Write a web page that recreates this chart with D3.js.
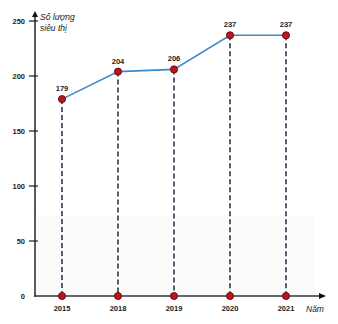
<!DOCTYPE html>
<html>
<head>
<meta charset="utf-8">
<script src="https://cdn.jsdelivr.net/npm/d3@7"></script>
<style>
  html, body { margin: 0; padding: 0; background: #fff; }
  svg { display: block; }
  text { font-family: "Liberation Sans", Arial, sans-serif; }
</style>
</head>
<body>
<svg id="chart" width="338" height="324"></svg>
<script>
// Number of supermarkets by year
const years = ["2015", "2018", "2019", "2020", "2021"];
const counts = [179, 204, 206, 237, 237];
const yTicks = [0, 50, 100, 150, 200, 250];

const svg = d3.select("#chart");
const x0 = 35, yBase = 296;

const x = d3.scalePoint().domain(years).range([62, 286]);
const y = d3.scaleLinear().domain([0, 250]).range([yBase, 21]);

// faint shaded band near the base
svg.append("rect")
  .attr("x", x0 + 1).attr("y", 215)
  .attr("width", 279).attr("height", yBase - 215)
  .attr("fill", "#fbfbfb");

// axes with arrowheads
const axisColor = "#333";
svg.append("line").attr("x1", x0).attr("y1", yBase + 1).attr("x2", x0).attr("y2", 16)
  .attr("stroke", axisColor).attr("stroke-width", 1.6);
svg.append("path").attr("d", `M${x0 - 3},${17} L${x0},${11} L${x0 + 3},${17} Z`).attr("fill", "#111");

svg.append("line").attr("x1", x0 - 1).attr("y1", yBase).attr("x2", 320).attr("y2", yBase)
  .attr("stroke", axisColor).attr("stroke-width", 1.6);
svg.append("path").attr("d", `M${319},${yBase - 3} L${326},${yBase} L${319},${yBase + 3} Z`).attr("fill", "#111");

// y ticks and labels
const yt = svg.append("g");
yt.selectAll("line").data(yTicks.filter(d => d > 0)).join("line")
  .attr("x1", x0 - 6).attr("x2", x0 + 3)
  .attr("y1", d => y(d)).attr("y2", d => y(d))
  .attr("stroke", "#1a1a3a").attr("stroke-width", 1.2);
yt.selectAll("text").data(yTicks).join("text")
  .attr("x", 25).attr("y", d => y(d) + 3)
  .attr("text-anchor", "end")
  .attr("font-size", 7.5).attr("font-weight", "bold").attr("fill", "#222")
  .text(d => d);

// y-axis title
svg.append("text").attr("x", 40).attr("y", 20)
  .attr("font-size", 8.5).attr("font-style", "italic").attr("fill", "#222").text("Số lượng");
svg.append("text").attr("x", 40).attr("y", 31)
  .attr("font-size", 8.5).attr("font-style", "italic").attr("fill", "#222").text("siêu thị");

// x labels
svg.append("g").selectAll("text").data(years).join("text")
  .attr("x", d => x(d)).attr("y", 311)
  .attr("text-anchor", "middle")
  .attr("font-size", 7.5).attr("font-weight", "bold").attr("fill", "#222")
  .text(d => d);
svg.append("text").attr("x", 306).attr("y", 312)
  .attr("font-size", 8.5).attr("font-style", "italic").attr("fill", "#222").text("Năm");

// dashed drop lines
svg.append("g").selectAll("line").data(years).join("line")
  .attr("x1", (d) => x(d)).attr("x2", d => x(d))
  .attr("y1", (d, i) => y(counts[i])).attr("y2", yBase)
  .attr("stroke", "#141a40").attr("stroke-width", 1.4)
  .attr("stroke-dasharray", "5,3");

// trend line
svg.append("path")
  .datum(counts)
  .attr("d", d3.line().x((d, i) => x(years[i])).y(d => y(d)))
  .attr("fill", "none").attr("stroke", "#3a8ad0").attr("stroke-width", 1.6);

// points on the base and on the line
const pts = svg.append("g");
pts.selectAll("circle.base").data(years).join("circle").attr("class", "base")
  .attr("cx", d => x(d)).attr("cy", yBase).attr("r", 3.6)
  .attr("fill", "#c0121a").attr("stroke", "#4a0a0a").attr("stroke-width", 0.8);
pts.selectAll("circle.val").data(counts).join("circle").attr("class", "val")
  .attr("cx", (d, i) => x(years[i])).attr("cy", d => y(d)).attr("r", 3.6)
  .attr("fill", "#c0121a").attr("stroke", "#4a0a0a").attr("stroke-width", 0.8);

// value labels
svg.append("g").selectAll("text").data(counts).join("text")
  .attr("x", (d, i) => x(years[i])).attr("y", d => y(d) - 8)
  .attr("text-anchor", "middle")
  .attr("font-size", 7.5).attr("font-weight", "bold").attr("fill", "#222")
  .text(d => d);
</script>
</body>
</html>
